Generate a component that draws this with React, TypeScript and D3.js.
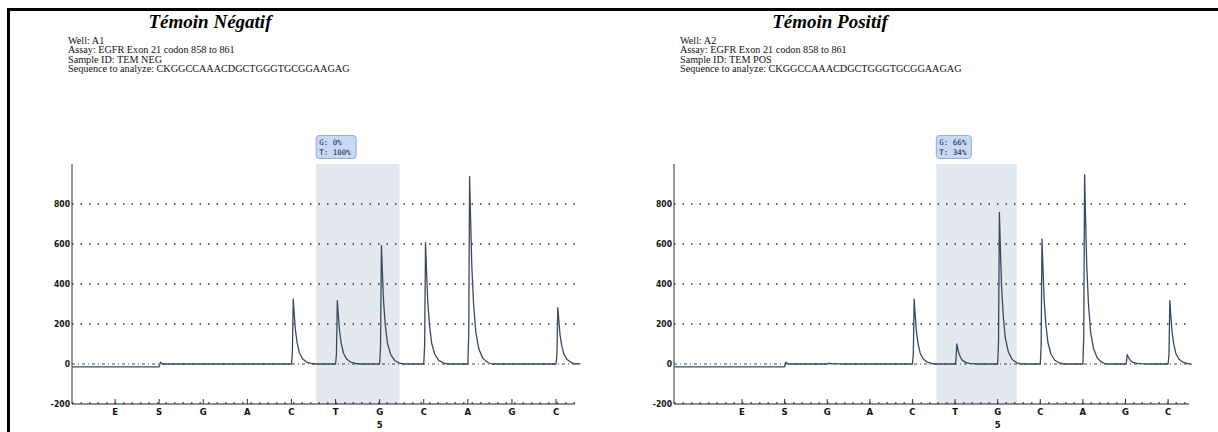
import React from "react";
import * as d3 from "d3";

// dispensation order, shared by both runs
const dispensations = ["E", "S", "G", "A", "C", "T", "G", "C", "A", "G", "C"];
const positionLabel = { index: 7, text: "5" };
const yTicks = [-200, 0, 200, 400, 600, 800];
const gridValues = [200, 400, 600, 800];

// peak heights read per dispensation (RLU)
const negPeaks = [0, 0, 0, 0, 325, 317, 592, 608, 937, 0, 282];
const posPeaks = [0, 0, 4, 0, 325, 100, 758, 625, 947, 47, 317];

// shape of one peak: [offset in dispensations, fraction of height]
const peakProfile: [number, number][] = [
  [0.0, 0], [0.02, 0.15], [0.04, 1], [0.06, 0.8], [0.09, 0.52], [0.13, 0.32],
  [0.18, 0.17], [0.25, 0.08], [0.34, 0.03], [0.45, 0.008], [0.55, 0],
];

const preBaseline = -14;
const sBump = 9;

const negInfo = ["Well: A1", "Assay: EGFR Exon 21 codon 858 to 861", "Sample ID: TEM NEG", "Sequence to analyze: CKGGCCAAACDGCTGGGTGCGGAAGAG"];
const posInfo = ["Well: A2", "Assay: EGFR Exon 21 codon 858 to 861", "Sample ID: TEM POS", "Sequence to analyze: CKGGCCAAACDGCTGGGTGCGGAAGAG"];

const negAllele = ["G: 0%", "T: 100%"];
const posAllele = ["G: 66%", "T: 34%"];

const highlight = [5.56, 7.45];

function buildTrace(peaks: number[], domain: [number, number]) {
  const pts: [number, number][] = [[domain[0], preBaseline], [2, preBaseline], [2.03, sBump], [2.08, 0]];
  peaks.forEach((h, k) => {
    const i = k + 1;
    if (h <= 0) return;
    peakProfile.forEach(([o, f]) => pts.push([i + o, h * f]));
  });
  pts.push([domain[1], 0]);
  return pts.sort((a, b) => a[0] - b[0]);
}

function Panel({ title, info, allele, peaks, x0, x1, domain, titleX, infoX, boxW }) {
  const x = d3.scaleLinear().domain(domain).range([x0, x1]);
  const y = d3.scaleLinear().domain([-200, 1000]).range([404, 164]);
  const line = d3.line<[number, number]>().x(d => x(d[0])).y(d => y(d[1]));
  const trace = buildTrace(peaks, domain);
  const hx0 = x(highlight[0]);
  const hx1 = x(highlight[1]);
  return (
    <g>
      <text x={titleX} y={28} textAnchor="middle" fontFamily="Liberation Serif" fontWeight="bold" fontStyle="italic" fontSize={19}>{title}</text>
      {info.map((t, i) => (
        <text key={i} x={infoX} y={44 + i * 9.3} fontFamily="Liberation Serif" fontSize={10.2} fill="#111">{t}</text>
      ))}
      <rect x={hx0} y={y(1000)} width={hx1 - hx0} height={y(-200) - y(1000)} fill="#e3e8ef" />
      <rect x={hx0} y={135.5} width={boxW} height={23} rx={3} fill="#c7d9f7" stroke="#93acd8" />
      {allele.map((t, i) => (
        <text key={i} x={hx0 + 3} y={144.5 + i * 10} fontFamily="DejaVu Sans Mono" fontSize={7.5} fill="#223">{t}</text>
      ))}
      {gridValues.map(v => (
        <line key={v} x1={x0} x2={x1} y1={y(v)} y2={y(v)} stroke="#333" strokeWidth={1.4} strokeDasharray="1.5,7" />
      ))}
      <line x1={x0} x2={x1} y1={y(0)} y2={y(0)} stroke="#444" strokeWidth={1} strokeDasharray="3,3,1,3" />
      <line x1={x0} x2={x1} y1={y(-200)} y2={y(-200)} stroke="#222" strokeWidth={1} />
      <line x1={x0} x2={x1} y1={y(-200) - 1} y2={y(-200) - 1} stroke="#333" strokeWidth={1.5} strokeDasharray="1.5,7" />
      <line x1={x0} x2={x0} y1={y(1000)} y2={y(-200)} stroke="#333" strokeWidth={1} />
      {yTicks.map(v => (
        <text key={v} x={x0 - 2} y={y(v) + 3} textAnchor="end" fontFamily="DejaVu Sans Condensed" fontWeight="bold" fontSize={8.5} fill="#111">{v}</text>
      ))}
      {dispensations.map((d, k) => (
        <g key={k}>
          <line x1={x(k + 1)} x2={x(k + 1)} y1={y(-200)} y2={y(-200) - 5} stroke="#333" strokeWidth={1} />
          <text x={x(k + 1)} y={y(-200) + 11} textAnchor="middle" fontFamily="DejaVu Sans" fontWeight="bold" fontSize={8.5} fill="#111">{d}</text>
        </g>
      ))}
      <text x={x(positionLabel.index)} y={y(-200) + 24} textAnchor="middle" fontFamily="DejaVu Sans" fontWeight="bold" fontSize={8.5} fill="#111">{positionLabel.text}</text>
      <path d={line(trace) || ""} fill="none" stroke="#3a4a5e" strokeWidth={1.3} strokeLinejoin="round" />
    </g>
  );
}

export default function App() {
  return (
    <svg width={1218} height={432} style={{ position: "absolute", left: 0, top: 0, background: "#fff" }}>
      <rect width={1218} height={432} fill="#fff" />
      <path d="M8.5,432 V9.5 H1218" fill="none" stroke="#000" strokeWidth={3} />
      <Panel title="Témoin Négatif" info={negInfo} allele={negAllele} peaks={negPeaks}
        x0={72} x1={575} domain={[0.023, 11.43]} titleX={210} infoX={68} boxW={40} />
      <Panel title="Témoin Positif" info={posInfo} allele={posAllele} peaks={posPeaks}
        x0={674} x1={1189} domain={[-0.596, 11.49]} titleX={830} infoX={680} boxW={35} />
    </svg>
  );
}
